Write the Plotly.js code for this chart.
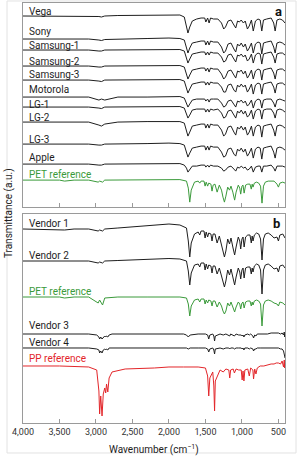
<!DOCTYPE html>
<html><head><meta charset="utf-8">
<script src="https://cdn.plot.ly/plotly-3.0.1.min.js"></script>
<style>html,body{margin:0;padding:0;background:#fff;}#chart{width:297px;height:458px;}</style>
</head><body><div id="chart"></div>
<script>
// ---------- DATA ----------
// Panel a: device screen protectors (shared wavenumber grid, cm^-1)
const wnA = [4000, 3500, 3100, 2960, 2925, 2880, 2700, 2300, 2000, 1850,
  1790, 1760, 1740, 1715, 1680, 1620, 1560, 1510, 1495, 1470,
  1450, 1430, 1390, 1330, 1280, 1250, 1225, 1190, 1150, 1110,
  1085, 1060, 1035, 1010, 980, 955, 925, 900, 870, 845,
  815, 780, 750, 728, 705, 660, 600, 565, 545, 520,
  480, 445, 410];
const vega = [0, 0, 0, -0.5, -1, 0, 0.5, 1, 1.5, 1,
  -1, -9, -17, -11, -5, -3, -2, -2, -6, -2,
  -7, -2, -3, -3, -7, -13, -11, -5, -4, -9,
  -12, -5, -6, -4, -7, -5, -13, -10, -4, -15,
  -5, -3, -4, -15, -4, -3, -2, -7, -15, -4,
  -3, -4, -7];
const sony = [0, 0, 0, -1, -1.5, -0.5, 0, 0.5, 1, 0.5,
  -1, -8, -14, -9, -4, -3, -2, -2, -6, -2,
  -6, -2, -3, -3, -8, -14, -12, -5, -4, -10,
  -13, -5, -7, -4, -8, -5, -12, -9, -4, -14,
  -5, -3, -4, -15, -4, -3, -2, -8, -14, -4,
  -3, -4, -6];
const samsung1 = [0, 0, 0, -1, -1, 0, 0, 0.5, 0.5, 0.5,
  -1, -7, -13, -9, -4, -3, -2, -2, -5, -2,
  -5, -2, -3, -3, -7, -12, -11, -5, -4, -9,
  -12, -5, -6, -4, -7, -5, -11, -9, -4, -13,
  -5, -3, -4, -14, -4, -3, -2, -7, -13, -4,
  -3, -3, -5];
const samsung2 = [0, 0, 0, -1, -1, 0, 0, 0.5, 0.5, 0.5,
  -1, -7, -13, -9, -4, -3, -2, -2, -5, -2,
  -6, -2, -3, -3, -8, -13, -11, -5, -4, -9,
  -12, -5, -6, -4, -8, -5, -12, -9, -4, -13,
  -5, -3, -4, -14, -4, -3, -2, -7, -13, -4,
  -3, -3, -5];
const samsung3 = [0, 0, 0, -1, -1.5, 0, 0, 0.5, 0.5, 0.5,
  -1, -8, -13, -9, -4, -3, -2, -2, -5, -2,
  -5, -2, -3, -3, -7, -12, -12, -5, -4, -10,
  -12, -5, -7, -4, -7, -5, -12, -9, -4, -14,
  -5, -3, -4, -14, -4, -3, -2, -7, -13, -4,
  -3, -3, -5];
const motorola = [0, 0, 0, -3, -2, -3, 0, 0, 0.5, 0.5,
  -1, -6, -10, -7, -3, -2, -2, -2, -4, -2,
  -5, -2, -2, -2, -6, -10, -9, -4, -3, -8,
  -10, -4, -5, -3, -6, -4, -9, -7, -3, -11,
  -4, -2, -3, -11, -3, -2, -2, -6, -10, -3,
  -2, -3, -4];
const lg1 = [0, 0, 0, -1, -1.5, 0, 0, 0.5, 0.5, 0.5,
  -1, -7, -11, -8, -3, -2, -2, -2, -5, -2,
  -5, -2, -3, -2, -6, -11, -10, -4, -3, -8,
  -11, -4, -6, -3, -7, -4, -10, -8, -3, -12,
  -4, -2, -3, -12, -3, -2, -2, -6, -11, -3,
  -2, -3, -5];
const lg2 = [0, 0, 0, -3, -4, -2, 0, 0.5, 1, 0.5,
  -1, -8, -14, -10, -4, -3, -2, -2, -6, -2,
  -6, -2, -3, -3, -8, -14, -12, -5, -4, -10,
  -13, -5, -7, -4, -8, -5, -13, -10, -4, -14,
  -5, -3, -4, -15, -4, -3, -2, -8, -14, -4,
  -3, -4, -6];
const lg3 = [0, 0, 0, -1, -1, 0, 0, 0.5, 1, 0.5,
  -1, -7, -13, -9, -4, -3, -2, -2, -6, -2,
  -6, -2, -3, -3, -8, -13, -12, -5, -4, -10,
  -12, -5, -7, -4, -8, -5, -12, -9, -4, -14,
  -5, -3, -4, -15, -4, -3, -2, -8, -14, -4,
  -3, -4, -6];
const apple = [0, 0, 0, -1, -1, 0, 0, 0, 0.5, 0.5,
  -1, -4, -8, -5, -2, -2, -1, -1, -3, -1,
  -3, -1, -2, -2, -4, -7, -6, -3, -2, -5,
  -7, -3, -4, -2, -4, -3, -6, -5, -2, -8,
  -3, -2, -2, -8, -2, -2, -1, -4, -7, -2,
  -2, -2, -3];

// PET-type grid (PET references, Vendor 1, Vendor 2)
const wnP = [4000, 3500, 3430, 3300, 3100, 2970, 2950, 2910, 2880, 2700,
  2300, 2000, 1850, 1760, 1735, 1715, 1695, 1650, 1600, 1578,
  1560, 1520, 1505, 1490, 1470, 1455, 1425, 1410, 1395, 1370,
  1340, 1310, 1280, 1260, 1240, 1220, 1195, 1170, 1150, 1125,
  1100, 1080, 1050, 1030, 1017, 1000, 985, 970, 950, 920,
  890, 872, 860, 848, 830, 800, 770, 745, 725, 705,
  680, 640, 600, 560, 520, 500, 480, 440, 410];
const petA = [0, 0, -1, 0, 0, -2, -1, -2, 0, 0,
  0, 0.5, 0.5, -1, -8, -22, -10, -2, -1, -3,
  -1, -1, -6, -2, -6, -3, -4, -11, -5, -4,
  -12, -5, -10, -17, -22, -16, -7, -10, -6, -12,
  -20, -12, -5, -8, -14, -6, -5, -13, -5, -4,
  -4, -9, -4, -7, -3, -2, -3, -6, -23, -6,
  -2, -1, -1, -1, -4, -7, -3, -2, -3];
const vendor1 = [0, -0.5, -1, 0, 0, -2, -1, -2, 0, 1,
  3, 5, 4, 1, -12, -28, -14, -5, -3, -6,
  -2, -2, -9, -3, -8, -4, -5, -12, -5, -5,
  -14, -7, -16, -24, -28, -22, -10, -15, -9, -18,
  -26, -18, -8, -12, -20, -10, -8, -18, -8, -6,
  -6, -14, -7, -12, -6, -4, -5, -10, -31, -10,
  -5, -4, -6, -9, -8, -12, -6, -5, -9];
const vendor2 = [0, 0, -0.5, 0, 0, -2, -1, -2, 0, 0.5,
  1.5, 2.5, 2, 0, -10, -24, -12, -4, -3, -6,
  -2, -2, -9, -3, -8, -4, -5, -12, -5, -5,
  -13, -7, -15, -22, -26, -20, -9, -14, -8, -16,
  -24, -16, -7, -11, -18, -9, -7, -17, -7, -6,
  -6, -13, -7, -11, -5, -3, -4, -9, -33, -9,
  -4, -3, -5, -8, -7, -11, -5, -4, -7];
const petB = [0, 0, -1, 0, 0, -6, -3, -8, -1, 0,
  0, 0, 0, -1, -7, -19, -9, -3, -2, -5,
  -2, -2, -7, -3, -6, -3, -4, -9, -4, -4,
  -10, -5, -9, -14, -17, -14, -6, -9, -5, -10,
  -15, -10, -5, -7, -12, -6, -5, -11, -5, -4,
  -4, -9, -5, -8, -4, -3, -4, -7, -29, -8,
  -4, -3, -4, -6, -7, -9, -5, -6, -8];

// PP-type grid (Vendor 3, Vendor 4, PP reference)
const wnPP = [4000, 3500, 3100, 2990, 2960, 2950, 2935, 2917, 2900, 2880,
  2867, 2855, 2838, 2820, 2780, 2600, 2200, 2000, 1800, 1760,
  1735, 1710, 1600, 1500, 1470, 1455, 1440, 1400, 1385, 1375,
  1365, 1300, 1256, 1220, 1180, 1167, 1155, 1120, 1103, 1080,
  1045, 1010, 997, 985, 973, 960, 920, 899, 880, 850,
  841, 825, 808, 790, 750, 700, 650, 600, 560, 530,
  500, 470, 450, 430, 420, 415, 410];
const vendor3 = [0, 0, 0, -1, -3, -5, -3, -5, -3, -2,
  -3, -2, -3, -1, 0, 0, 0, 0, 0, -1,
  -3, -1, 0, 0, -1, -5, -1, 0, -2, -7,
  -2, 0, -1, 0, -1, -2, 0, -1, -2, 0,
  -1, -1, -2, -1, -3, -1, 0, -1, 0, -2,
  -4, -1, -2, 0, 0, 0, 0, 1, 1, 1,
  1, 0, 1, -1, 2, -3, 0];
const vendor4 = [0, 0, 0, -1, -2, -5, -3, -5, -2, -1,
  -2, -1, -2, 0, 0, 0, 0, 0, 0, 0,
  -1, 0, 0, 0, -1, -4, -1, 0, -2, -6,
  -1, 0, -1, 0, 0, -1, 0, 0, -1, 0,
  0, 0, -1, 0, -2, 0, 0, -1, 0, -1,
  -3, -1, -1, 0, 0, 0, 0, 0, 0, 0,
  0, -1, -1, -3, -5, -8, -10];
const ppRef = [0, 0, -1, -4, -25, -48, -30, -50, -28, -22,
  -27, -18, -26, -12, -6, -3, -2, -1, -1, -1,
  -1, -1, -1, -2, -10, -30, -12, -6, -20, -45,
  -15, -4, -6, -3, -4, -12, -4, -3, -7, -3,
  -4, -4, -14, -5, -15, -4, -3, -10, -2, -4,
  -13, -3, -8, -2, 0, 0, 1, 2, 2, 3,
  3, 2, 5, -1, 6, -2, 4];

const namesA = ["Vega", "Sony", "Samsung-1", "Samsung-2", "Samsung-3", "Motorola", "LG-1", "LG-2", "LG-3", "Apple", "PET reference"];
const namesB = ["Vendor 1", "Vendor 2", "PET reference", "Vendor 3", "Vendor 4", "PP reference"];

// ---------- LAYOUT / STYLE ----------
const BLACK = "#1e1e1e", GREEN = "#3a9a3a", RED = "#e3262a", AXIS = "#9a9a9a";
const baseA = [191, 168, 157, 141, 127, 110, 100, 85, 63, 43, 27];   // stacking offsets, panel a
const baseB = [194, 162, 126, 89, 75, 57];                            // stacking offsets, panel b
const labelYA = [196, 176, 162, 146, 133, 118, 103, 90, 68, 50, 33];
const labelYB = [200, 168, 132, 98, 81, 64];

const seriesA = [[wnA, vega], [wnA, sony], [wnA, samsung1], [wnA, samsung2], [wnA, samsung3], [wnA, motorola], [wnA, lg1], [wnA, lg2], [wnA, lg3], [wnA, apple], [wnP, petA]];
const seriesB = [[wnP, vendor1], [wnP, vendor2], [wnP, petB], [wnPP, vendor3], [wnPP, vendor4], [wnPP, ppRef]];
const colA = namesA.map((n, i) => i === 10 ? GREEN : BLACK);
const colB = [BLACK, BLACK, GREEN, BLACK, BLACK, RED];

const traces = [];
seriesA.forEach((s, i) => traces.push({x: s[0], y: s[1].map(v => v + baseA[i]), xaxis: "x", yaxis: "y", type: "scatter", mode: "lines", line: {color: colA[i], width: 1}, name: namesA[i], hoverinfo: "skip"}));
seriesB.forEach((s, i) => traces.push({x: s[0], y: s[1].map(v => v + baseB[i]), xaxis: "x2", yaxis: "y2", type: "scatter", mode: "lines", line: {color: colB[i], width: 1}, name: namesB[i], hoverinfo: "skip"}));

const font = "Roboto, 'Liberation Sans', Arial, sans-serif";
const annotations = [];
namesA.forEach((n, i) => annotations.push({text: n, x: 0.016, xref: "paper", y: labelYA[i], yref: "y", xanchor: "left", yanchor: "middle", showarrow: false, font: {family: font, size: 10, color: colA[i]}}));
namesB.forEach((n, i) => annotations.push({text: n, x: 0.016, xref: "paper", y: labelYB[i], yref: "y2", xanchor: "left", yanchor: "middle", showarrow: false, font: {family: font, size: 10, color: colB[i]}}));
annotations.push({text: "a", x: 0.995, xref: "paper", y: 196, yref: "y", xanchor: "right", yanchor: "middle", showarrow: false, font: {family: font, size: 13, color: "#111", weight: 700}});
annotations.push({text: "b", x: 0.99, xref: "paper", y: 200, yref: "y2", xanchor: "right", yanchor: "middle", showarrow: false, font: {family: font, size: 13, color: "#111", weight: 700}});
annotations.push({text: "Wavenumber (cm<sup>−1</sup>)", x: 0.5, xref: "paper", y: -0.062, yref: "paper", xanchor: "center", yanchor: "middle", showarrow: false, font: {family: font, size: 10, color: "#222"}});
annotations.push({text: "Transmittance (a.u.)", x: -0.053, xref: "paper", y: 0.5, yref: "paper", textangle: -90, xanchor: "center", yanchor: "middle", showarrow: false, font: {family: font, size: 10, color: "#222"}});

const xTicks = [4000, 3500, 3000, 2500, 2000, 1500, 1000, 500];
const xBase = {range: [4000, 410], showgrid: false, zeroline: false, showline: true, mirror: true, linecolor: AXIS, linewidth: 1,
  ticks: "inside", ticklen: 4, tickcolor: AXIS, tickvals: xTicks, tickformat: ",d", tickfont: {family: font, size: 9, color: "#333"}};
const yBase = {showgrid: false, zeroline: false, showline: true, mirror: true, linecolor: AXIS, linewidth: 1, showticklabels: false, ticks: ""};

const layout = {
  width: 297, height: 458, margin: {l: 23, r: 12, t: 3, b: 35},
  paper_bgcolor: "#fff", plot_bgcolor: "#fff", showlegend: false,
  xaxis: Object.assign({}, xBase, {anchor: "y", showticklabels: false}),
  xaxis2: Object.assign({}, xBase, {anchor: "y2", showticklabels: true}),
  yaxis: Object.assign({}, yBase, {domain: [0.514, 1], range: [0, 204]}),
  yaxis2: Object.assign({}, yBase, {domain: [0, 0.4976], range: [0, 209]}),
  annotations: annotations,
  shapes: [{type: "rect", xref: "paper", yref: "paper", x0: -0.061, x1: 1.042, y0: -0.0714, y1: 1.0048, line: {color: "#e2e2e2", width: 1}}]
};
Plotly.newPlot("chart", traces, layout, {staticPlot: true, displayModeBar: false});
</script></body></html>
